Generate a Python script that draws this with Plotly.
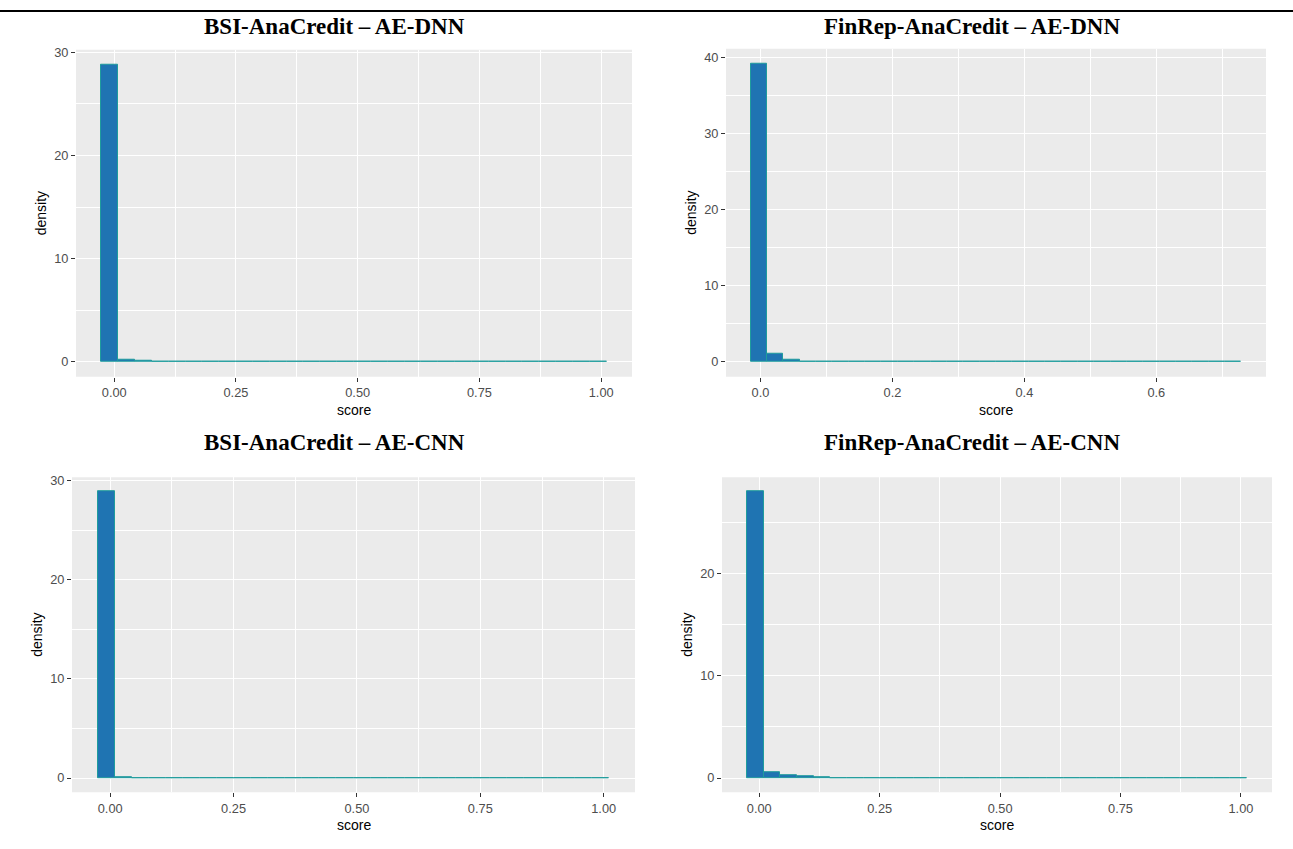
import plotly.graph_objects as go

W, H = 1293, 849

# ---------------- data ----------------
titles = ["BSI-AnaCredit – AE-DNN", "FinRep-AnaCredit – AE-DNN",
          "BSI-AnaCredit – AE-CNN", "FinRep-AnaCredit – AE-CNN"]

# histogram bins: left edge of the first bin and bin width (30 bins each)
bsi_dnn_start, bsi_dnn_width = -0.0266, 0.0346
fin_dnn_start, fin_dnn_width = -0.0150, 0.0248
bsi_cnn_start, bsi_cnn_width = -0.0255, 0.03457
fin_cnn_start, fin_cnn_width = -0.0254, 0.0346

bsi_dnn_density = [28.8, 0.17, 0.09, 0.03, 0.02, 0.02, 0.01, 0.01, 0.01, 0.01,
                   0.01, 0.01, 0.01, 0.01, 0.01, 0.01, 0.01, 0.01, 0.01, 0.01,
                   0.01, 0.01, 0.01, 0.01, 0.01, 0.01, 0.01, 0.01, 0.01, 0.01]
fin_dnn_density = [39.2, 1.08, 0.22, 0.06, 0.04, 0.03, 0.02, 0.02, 0.01, 0.01,
                   0.01, 0.01, 0.01, 0.01, 0.01, 0.01, 0.01, 0.01, 0.01, 0.01,
                   0.01, 0.01, 0.01, 0.01, 0.01, 0.01, 0.01, 0.01, 0.01, 0.01]
bsi_cnn_density = [28.9, 0.12, 0.03, 0.02, 0.01, 0.01, 0.01, 0.01, 0.01, 0.01,
                   0.01, 0.01, 0.01, 0.01, 0.01, 0.01, 0.01, 0.01, 0.01, 0.01,
                   0.01, 0.01, 0.01, 0.01, 0.01, 0.01, 0.01, 0.01, 0.01, 0.01]
fin_cnn_density = [28.05, 0.58, 0.32, 0.15, 0.05, 0.03, 0.02, 0.02, 0.01, 0.01,
                   0.01, 0.01, 0.01, 0.01, 0.01, 0.01, 0.01, 0.01, 0.01, 0.01,
                   0.01, 0.01, 0.01, 0.01, 0.01, 0.01, 0.01, 0.01, 0.01, 0.01]

x_ticks_a = [0.0, 0.25, 0.5, 0.75, 1.0]
x_ticklabels_a = ["0.00", "0.25", "0.50", "0.75", "1.00"]
x_ticks_b = [0.0, 0.2, 0.4, 0.6]
x_ticklabels_b = ["0.0", "0.2", "0.4", "0.6"]

# ---------------- layout helpers ----------------
# panel rectangles in pixels: (left, right, top, bottom)
panels = [(76, 632, 45, 374), (726, 1266, 44, 374),
          (72, 635, 475, 792), (722, 1272, 475, 792)]
title_pos = [(334, 22), (972, 22), (334, 440), (972, 440)]

FILL = "#1f74b2"
EDGE = "#1f9c9c"
BG = "#EBEBEB"
TICKC = "#333333"
LABC = "#4D4D4D"
SANS = "Liberation Sans, Arial, sans-serif"

def px(x):
    return x / W

def py(y):
    return 1 - y / H

series = [
    (bsi_dnn_start, bsi_dnn_width, bsi_dnn_density, x_ticks_a, x_ticklabels_a, 0.125),
    (fin_dnn_start, fin_dnn_width, fin_dnn_density, x_ticks_b, x_ticklabels_b, 0.1),
    (bsi_cnn_start, bsi_cnn_width, bsi_cnn_density, x_ticks_a, x_ticklabels_a, 0.125),
    (fin_cnn_start, fin_cnn_width, fin_cnn_density, x_ticks_a, x_ticklabels_a, 0.125),
]

fig = go.Figure()
annotations = []
layout_axes = {}

for i, (start, width, dens, xt, xtl, xminor) in enumerate(series):
    n = i + 1
    xa = "x" if n == 1 else f"x{n}"
    ya = "y" if n == 1 else f"y{n}"
    centers = [start + width * (k + 0.5) for k in range(len(dens))]
    fig.add_trace(go.Bar(
        x=centers, y=dens, width=[width] * len(dens),
        marker=dict(color=FILL, line=dict(color=EDGE, width=1)),
        xaxis=xa, yaxis=ya, showlegend=False, hoverinfo="x+y",
    ))
    # ggplot-like 5% expansion
    lo = start
    hi = start + width * len(dens)
    xr = [lo - 0.05 * (hi - lo), hi + 0.05 * (hi - lo)]
    ymax = max(dens)
    yr = [-0.05 * ymax, ymax * 1.05]

    l, r, t, b = panels[i]
    xkey = "xaxis" if n == 1 else f"xaxis{n}"
    ykey = "yaxis" if n == 1 else f"yaxis{n}"
    layout_axes[xkey] = dict(
        domain=[px(l), px(r)], anchor=ya, range=xr,
        tickmode="array", tickvals=xt, ticktext=xtl,
        showgrid=True, gridcolor="white", gridwidth=1.1, zeroline=False,
        ticks="outside", ticklen=4, tickwidth=1.1, tickcolor=TICKC,
        tickfont=dict(family=SANS, size=12.8, color=LABC),
        minor=dict(dtick=xminor, tick0=0, showgrid=True, gridcolor="white",
                   gridwidth=0.5, ticks=""),
        showline=False, fixedrange=True,
    )
    layout_axes[ykey] = dict(
        domain=[py(b), py(t)], anchor=xa, range=yr,
        tickmode="linear", tick0=0, dtick=10,
        showgrid=True, gridcolor="white", gridwidth=1.1, zeroline=False,
        ticks="outside", ticklen=4, tickwidth=1.1, tickcolor=TICKC,
        tickfont=dict(family=SANS, size=12.8, color=LABC),
        minor=dict(dtick=5, tick0=0, showgrid=True, gridcolor="white",
                   gridwidth=0.5, ticks=""),
        showline=False, fixedrange=True,
    )
    # panel background
    fig.add_shape(type="rect", xref=f"{xa} domain", yref=f"{ya} domain",
                  x0=0, x1=1, y0=0, y1=1, fillcolor=BG, line_width=0,
                  layer="below")
    # title
    tx, ty = title_pos[i]
    annotations.append(dict(
        x=px(tx), y=py(ty), xref="paper", yref="paper", text=f"<b>{titles[i]}</b>",
        showarrow=False, xanchor="center", yanchor="middle",
        font=dict(family="Liberation Serif, Times New Roman, serif", size=23, color="black"),
    ))
    # axis titles
    annotations.append(dict(
        x=px((l + r) / 2), y=py(b + 33), xref="paper", yref="paper", text="score",
        showarrow=False, xanchor="center", yanchor="middle",
        font=dict(family=SANS, size=14, color="black"),
    ))
    annotations.append(dict(
        x=px(l - 35), y=py((t + b) / 2), xref="paper", yref="paper", text="density",
        showarrow=False, xanchor="center", yanchor="middle", textangle=-90,
        font=dict(family=SANS, size=14, color="black"),
    ))

# rule line at the top of the page
fig.add_shape(type="line", xref="paper", yref="paper", x0=0, x1=1,
              y0=py(6), y1=py(6), line=dict(color="black", width=2))

fig.update_layout(
    width=W, height=H, margin=dict(l=0, r=0, t=0, b=0),
    paper_bgcolor="white", plot_bgcolor="rgba(0,0,0,0)",
    bargap=0, annotations=annotations, showlegend=False,
    **layout_axes,
)

fig.write_html("out.html")
